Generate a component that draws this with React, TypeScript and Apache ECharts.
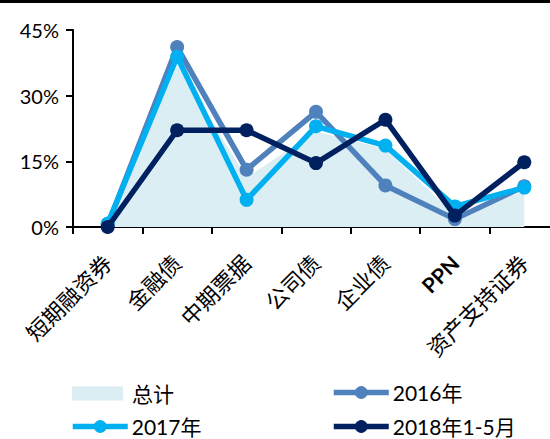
import React, { useEffect, useRef } from "react";
import * as echarts from "echarts";

const categories = ["短期融资券", "金融债", "中期票据", "公司债", "企业债", "PPN", "资产支持证券"];
const totalValues = [0.5, 37.5, 11.5, 22.0, 18.0, 3.0, 8.3];
const values2016 = [0.5, 41.1, 13.1, 26.3, 9.5, 1.8, 9.3];
const values2017 = [0.8, 38.9, 6.2, 23.0, 18.6, 4.7, 9.0];
const values2018 = [0.0, 22.1, 22.1, 14.6, 24.5, 2.6, 14.8];
const yTicks = [0, 15, 30, 45];

const FONT = 'Lato, "Noto Sans CJK SC", sans-serif';
const C_TOTAL = "#DAEEF3";
const C16 = "#4F81BD";
const C17 = "#00B0F0";
const C18 = "#002060";

export default function App() {
  const ref = useRef<HTMLDivElement>(null);
  useEffect(() => {
    if (!ref.current) return;
    const chart = echarts.init(ref.current, undefined, { renderer: "svg" });
    const lineSeries = (name: string, data: number[], color: string, z: number) => ({
      name,
      type: "line",
      data,
      symbol: "circle",
      symbolSize: 14,
      z,
      itemStyle: { color },
      lineStyle: { color, width: 5.5 },
    });
    const legendBase = {
      orient: "horizontal",
      textStyle: { fontFamily: FONT, fontSize: 21, color: "#000", padding: [0, 0, 0, -1] },
      selectedMode: false,
      lineStyle: { width: 5.5 },
    };
    chart.setOption({
      animation: false,
      backgroundColor: "#fff",
      graphic: [
        { type: "rect", left: 0, top: 0, shape: { width: 570, height: 3 }, style: { fill: "#000" } },
      ],
      grid: { left: 73, top: 30, width: 486, height: 197, containLabel: false },
      xAxis: {
        type: "category",
        data: categories,
        boundaryGap: true,
        axisLine: { lineStyle: { color: "#000", width: 2 } },
        axisTick: { show: true, length: 7, lineStyle: { color: "#000", width: 2 } },
        axisLabel: {
          rotate: 45,
          margin: 32,
          interval: 0,
          fontFamily: FONT,
          fontSize: 22,
          color: "#000",
          formatter: (v: string) => (v === "PPN" ? "{b|PPN}" : v),
          rich: { b: { fontFamily: FONT, fontSize: 21, fontWeight: "bold", color: "#000" } },
        },
      },
      yAxis: {
        type: "value",
        min: yTicks[0],
        max: yTicks[yTicks.length - 1],
        interval: 15,
        axisLine: { show: true, lineStyle: { color: "#000", width: 2 } },
        axisTick: { show: true, length: 7, lineStyle: { color: "#000", width: 2 } },
        splitLine: { show: false },
        axisLabel: { formatter: "{value}%", fontFamily: FONT, fontSize: 20, color: "#000", margin: 14 },
      },
      legend: [
        {
          ...legendBase,
          left: 67,
          top: 378,
          itemWidth: 51,
          itemHeight: 14,
          data: [{ name: "总计", icon: "rect", itemStyle: { color: C_TOTAL, borderWidth: 0 } }],
          textStyle: { ...legendBase.textStyle, padding: [0, 0, 0, 4] },
        },
        { ...legendBase, left: 326, top: 377, itemWidth: 55, itemHeight: 16, data: ["2016年"] },
        { ...legendBase, left: 65, top: 411, itemWidth: 55, itemHeight: 16, data: ["2017年"] },
        { ...legendBase, left: 326, top: 411, itemWidth: 55, itemHeight: 16, data: ["2018年1-5月"] },
      ],
      series: [
        {
          name: "总计",
          type: "line",
          data: totalValues,
          symbol: "none",
          z: 1,
          itemStyle: { color: C_TOTAL },
          lineStyle: { color: "#fff", width: 1.5 },
          areaStyle: { color: C_TOTAL, opacity: 1 },
        },
        lineSeries("2016年", values2016, C16, 2),
        lineSeries("2017年", values2017, C17, 3),
        lineSeries("2018年1-5月", values2018, C18, 4),
      ],
    });
    return () => chart.dispose();
  }, []);
  return (
    <div
      style={{
        position: "absolute",
        left: 0,
        top: 0,
        width: 550,
        height: 439,
        overflow: "hidden",
        background: "#fff",
      }}
    >
      <div ref={ref} style={{ width: 570, height: 439 }} />
    </div>
  );
}
